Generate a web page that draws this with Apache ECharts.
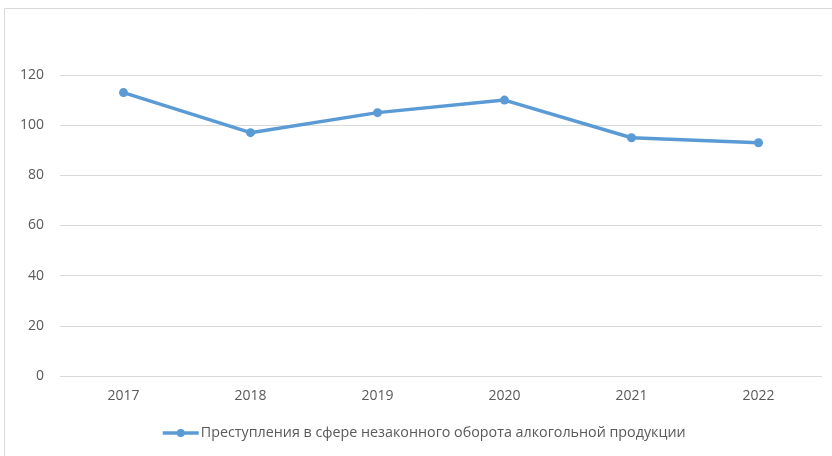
<!DOCTYPE html>
<html><head><meta charset="utf-8">
<script src="https://cdn.jsdelivr.net/npm/echarts@6/dist/echarts.min.js"></script>
<style>html,body{margin:0;padding:0;background:#fff}#c{width:832px;height:456px}</style>
</head><body><div id="c"></div>
<script>
const categories = ['2017','2018','2019','2020','2021','2022'];
const values = [113, 97, 105, 110, 95, 93];
const seriesName = 'Преступления в сфере незаконного оборота алкогольной продукции';
const yTicks = {min: 0, max: 120, interval: 20};

const chart = echarts.init(document.getElementById('c'), null, {renderer: 'canvas'});
chart.setOption({
  animation: false,
  textStyle: {fontFamily: 'Open Sans, Liberation Sans, sans-serif'},
  graphic: [{
    type: 'rect', shape: {x: 4.5, y: 8.5, width: 900, height: 500},
    style: {fill: 'none', stroke: '#d9d9d9', lineWidth: 1}, silent: true
  }],
  grid: {left: 60, right: 10, top: 75, bottom: 80},
  xAxis: {
    type: 'category', data: categories, boundaryGap: true,
    axisLine: {show: false}, axisTick: {show: false},
    axisLabel: {color: '#595959', fontSize: 14, margin: 13}
  },
  yAxis: {
    type: 'value', min: yTicks.min, max: yTicks.max, interval: yTicks.interval,
    axisLine: {show: false}, axisTick: {show: false},
    axisLabel: {color: '#595959', fontSize: 14, margin: 16},
    splitLine: {lineStyle: {color: '#d9d9d9', width: 1}}
  },
  legend: {
    bottom: 11, left: 156, itemWidth: 36, itemHeight: 10, itemGap: 4,
    lineStyle: {width: 3.5},
    textStyle: {color: '#595959', fontSize: 14.3, padding: [0,0,0,-3]},
    data: [{name: seriesName}]
  },
  series: [{
    name: seriesName, type: 'line', data: values,
    symbol: 'circle', symbolSize: 9,
    lineStyle: {color: '#5b9bd5', width: 3.5},
    itemStyle: {color: '#5b9bd5'}
  }]
});
</script></body></html>
